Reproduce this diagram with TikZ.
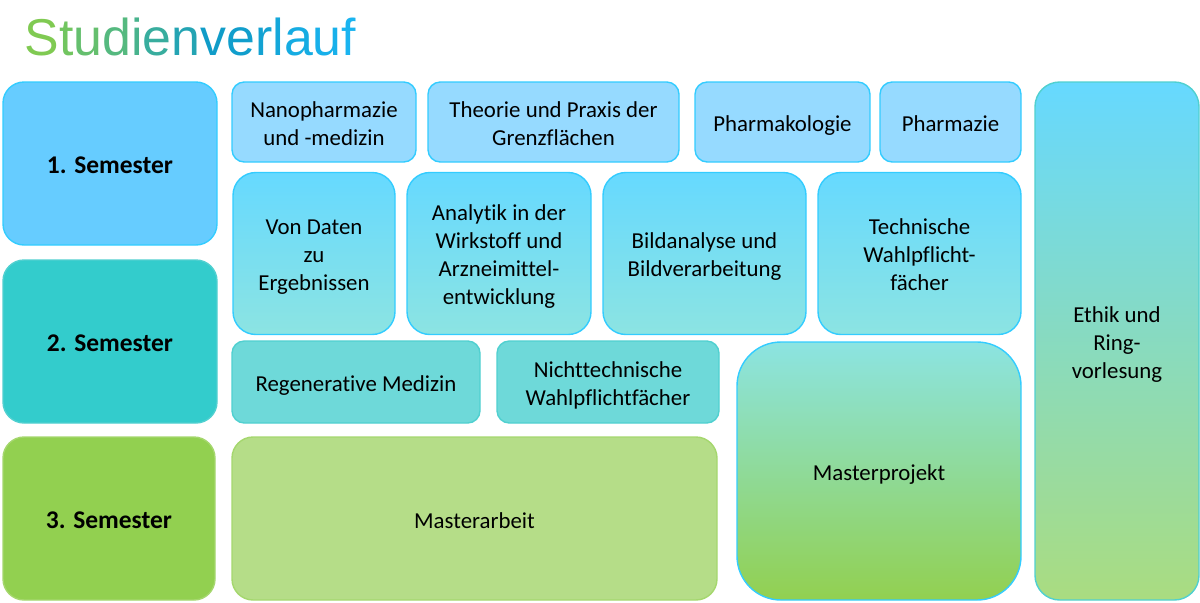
\documentclass[tikz,border=0pt]{standalone}
\usepackage{fontspec}
\setmainfont{Carlito}[Ligatures=NoCommon]
\newfontfamily\titlefont{Liberation Sans}
\usetikzlibrary{positioning}

\definecolor{titleA}{RGB}{128,202,82}
\definecolor{titleM}{RGB}{16,156,200}
\definecolor{titleB}{RGB}{26,180,240}
\definecolor{semOne}{RGB}{102,204,255}
\definecolor{semTwo}{RGB}{51,204,204}
\definecolor{semThree}{RGB}{146,208,80}
\definecolor{skyline}{RGB}{51,204,255}
\definecolor{tealline}{RGB}{80,208,208}
\definecolor{greenline}{RGB}{165,215,110}
\definecolor{lightsky}{RGB}{150,218,255}
\definecolor{midsky}{RGB}{102,217,255}
\definecolor{aqua}{RGB}{140,228,226}
\definecolor{lightteal}{RGB}{110,217,217}
\definecolor{lightgreen}{RGB}{181,221,136}
\definecolor{palegreen}{RGB}{170,220,128}
\definecolor{seagreen}{RGB}{145,218,180}

\newcommand{\px}{0.02cm}
\newcommand{\topstrut}{\rule{0pt}{13.6pt}}
\newcommand{\botstrut}{\rule[-2.4pt]{0pt}{2.4pt}}
% first line of a text with several lines
\newcommand{\firstline}{\rule{0pt}{13pt}}

\begin{document}
\begin{tikzpicture}[x=0.02cm,y=-0.02cm,line width=0.8pt]
  \tikzstyle{block}=[rectangle,align=center,inner sep=2pt,font=\fontsize{13}{16}\selectfont,
      execute at begin node=\topstrut,execute at end node=\botstrut]
  \tikzstyle{semester}=[block,rounded corners=12pt,font=\fontsize{14.5}{17}\selectfont\bfseries]
  \tikzstyle{top course}=[block,rounded corners=7pt,fill=lightsky,draw=skyline]
  \tikzstyle{mid course}=[block,rounded corners=13pt,top color=midsky,bottom color=aqua,draw=skyline]
  \tikzstyle{teal course}=[block,rounded corners=7pt,fill=lightteal,draw=tealline]

  \useasboundingbox (0,0) rectangle (1200,602);

  % Title, letter by letter from green to blue
  \node[anchor=base west,inner sep=0pt,font=\titlefont\fontsize{29.5}{32}\selectfont] (title) at (24,55)
    {\textcolor{titleM!0!titleA}{S}\textcolor{titleM!12!titleA}{t}\textcolor{titleM!24!titleA}{u}%
     \textcolor{titleM!38!titleA}{d}\textcolor{titleM!50!titleA}{i}\textcolor{titleM!64!titleA}{e}%
     \textcolor{titleM!82!titleA}{n}\textcolor{titleM}{v}\textcolor{titleB!10!titleM}{e}%
     \textcolor{titleB!25!titleM}{r}\textcolor{titleB!45!titleM}{l}\textcolor{titleB!65!titleM}{a}%
     \textcolor{titleB!85!titleM}{u}\textcolor{titleB}{f}};

  % Draw the semester column
  \node[semester,fill=semOne,draw=skyline,minimum width=214*\px,minimum height=163*\px] (S-1) at (110,163.5) {1. Semester};
  \node[semester,fill=semTwo,draw=tealline,minimum width=214*\px,minimum height=163*\px] (S-2) at (110,341.5) {2. Semester};
  \node[semester,fill=semThree,draw=greenline,minimum width=212*\px,minimum height=163*\px] (S-3) at (109,518.5) {3. Semester};

  % First row of courses
  \foreach \name/\x/\w/\txt in {nano/324/184/{\firstline Nanopharmazie\\und -medizin},
      theorie/553.5/251/{\firstline Theorie und Praxis der\\Grenzflächen},
      pharmakologie/782.5/175/{Pharmakologie},
      pharmazie/950.5/141/{Pharmazie}}
      \node[top course,minimum width=\w*\px,minimum height=80*\px] (T-\name) at (\x,122) {\txt};

  % Second row of courses
  \foreach \name/\x/\w/\txt in {daten/314/162/{Von Daten\\zu\\Ergebnissen},
      analytik/499/184/{Analytik in der\\Wirkstoff und\\Arzneimittel-\\entwicklung},
      bild/704.5/203/{Bildanalyse und\\Bildverarbeitung},
      technik/919.5/203/{Technische\\Wahlpflicht-\\fächer}}
      \node[mid course,minimum width=\w*\px,minimum height=162*\px] (M-\name) at (\x,253.5) {\firstline\txt};

  % Third row of courses
  \node[teal course,minimum width=248*\px,minimum height=82*\px] (R-regen) at (356,382) {Regenerative Medizin};
  \node[teal course,minimum width=222*\px,minimum height=82*\px] (R-nicht) at (608,382) {\firstline Nichttechnische\\Wahlpflichtfächer};

  % Thesis and project
  \node[block,rounded corners=12pt,fill=lightgreen,draw=greenline,minimum width=485*\px,minimum height=163*\px] (arbeit) at (474.5,518.5) {Masterarbeit};
  \node[block,rounded corners=25pt,top color=aqua,middle color=seagreen,bottom color=semThree,draw=skyline,minimum width=284*\px,minimum height=258*\px] (projekt) at (879,471) {Masterprojekt};

  % Ethics column over all semesters
  \node[block,rounded corners=14pt,top color=midsky,middle color=aqua,bottom color=palegreen,draw=tealline,minimum width=164*\px,minimum height=518*\px] (ethik) at (1117,341) {\firstline Ethik und\\Ring-\\vorlesung};
\end{tikzpicture}
\end{document}
